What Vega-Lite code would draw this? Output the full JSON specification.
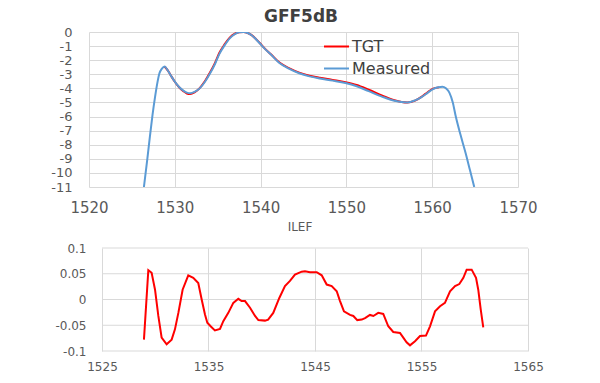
{
  "$schema": "https://vega.github.io/schema/vega-lite/v6.json",
  "padding": {"left": 39, "top": 8, "right": 5, "bottom": 5},
  "background": "white",
  "config": {
    "font": "DejaVu Sans",
    "view": {"stroke": null},
    "axis": {"gridColor": "#D9D9D9", "gridWidth": 1, "domain": false, "ticks": false, "labelColor": "#595959", "title": null, "labelFont": "DejaVu Sans", "labelOverlap": false, "labelFlush": false, "labelBound": false}
  },
  "datasets": {
    "tgt": [
      {"wl": 1528.8, "db": -2.45, "series": "TGT"},
      {"wl": 1529.2, "db": -2.74, "series": "TGT"},
      {"wl": 1529.6, "db": -3.15, "series": "TGT"},
      {"wl": 1530.0, "db": -3.53, "series": "TGT"},
      {"wl": 1530.5, "db": -3.92, "series": "TGT"},
      {"wl": 1531.0, "db": -4.2, "series": "TGT"},
      {"wl": 1531.4, "db": -4.36, "series": "TGT"},
      {"wl": 1531.8, "db": -4.4, "series": "TGT"},
      {"wl": 1532.3, "db": -4.28, "series": "TGT"},
      {"wl": 1532.9, "db": -3.98, "series": "TGT"},
      {"wl": 1533.5, "db": -3.5, "series": "TGT"},
      {"wl": 1534.1, "db": -2.88, "series": "TGT"},
      {"wl": 1534.7, "db": -2.17, "series": "TGT"},
      {"wl": 1535.2, "db": -1.47, "series": "TGT"},
      {"wl": 1535.8, "db": -0.88, "series": "TGT"},
      {"wl": 1536.4, "db": -0.4, "series": "TGT"},
      {"wl": 1537.0, "db": -0.12, "series": "TGT"},
      {"wl": 1537.5, "db": -0.01, "series": "TGT"},
      {"wl": 1538.0, "db": 0, "series": "TGT"},
      {"wl": 1538.5, "db": -0.07, "series": "TGT"},
      {"wl": 1539.0, "db": -0.24, "series": "TGT"},
      {"wl": 1539.9, "db": -0.78, "series": "TGT"},
      {"wl": 1540.5, "db": -1.18, "series": "TGT"},
      {"wl": 1541.2, "db": -1.58, "series": "TGT"},
      {"wl": 1542.2, "db": -2.17, "series": "TGT"},
      {"wl": 1543.3, "db": -2.56, "series": "TGT"},
      {"wl": 1544.5, "db": -2.88, "series": "TGT"},
      {"wl": 1545.7, "db": -3.1, "series": "TGT"},
      {"wl": 1546.9, "db": -3.25, "series": "TGT"},
      {"wl": 1548.4, "db": -3.4, "series": "TGT"},
      {"wl": 1549.9, "db": -3.56, "series": "TGT"},
      {"wl": 1551.2, "db": -3.76, "series": "TGT"},
      {"wl": 1552.6, "db": -4.1, "series": "TGT"},
      {"wl": 1554.2, "db": -4.52, "series": "TGT"},
      {"wl": 1555.6, "db": -4.84, "series": "TGT"},
      {"wl": 1557.1, "db": -5.0, "series": "TGT"},
      {"wl": 1558.0, "db": -4.87, "series": "TGT"},
      {"wl": 1558.8, "db": -4.58, "series": "TGT"},
      {"wl": 1559.5, "db": -4.26, "series": "TGT"},
      {"wl": 1560.1, "db": -4.02, "series": "TGT"},
      {"wl": 1560.8, "db": -3.93, "series": "TGT"}
    ],
    "measured": [
      {"wl": 1526.4, "db": -11, "series": "Measured"},
      {"wl": 1526.8, "db": -9.0, "series": "Measured"},
      {"wl": 1527.1, "db": -7.4, "series": "Measured"},
      {"wl": 1527.4, "db": -5.9, "series": "Measured"},
      {"wl": 1527.7, "db": -4.6, "series": "Measured"},
      {"wl": 1528.0, "db": -3.5, "series": "Measured"},
      {"wl": 1528.2, "db": -2.95, "series": "Measured"},
      {"wl": 1528.5, "db": -2.6, "series": "Measured"},
      {"wl": 1528.8, "db": -2.45, "series": "Measured"},
      {"wl": 1529.2, "db": -2.75, "series": "Measured"},
      {"wl": 1529.6, "db": -3.15, "series": "Measured"},
      {"wl": 1530.0, "db": -3.52, "series": "Measured"},
      {"wl": 1530.5, "db": -3.9, "series": "Measured"},
      {"wl": 1531.0, "db": -4.16, "series": "Measured"},
      {"wl": 1531.4, "db": -4.3, "series": "Measured"},
      {"wl": 1531.8, "db": -4.35, "series": "Measured"},
      {"wl": 1532.3, "db": -4.25, "series": "Measured"},
      {"wl": 1532.9, "db": -4.0, "series": "Measured"},
      {"wl": 1533.5, "db": -3.55, "series": "Measured"},
      {"wl": 1534.1, "db": -2.95, "series": "Measured"},
      {"wl": 1534.7, "db": -2.25, "series": "Measured"},
      {"wl": 1535.2, "db": -1.55, "series": "Measured"},
      {"wl": 1535.8, "db": -0.95, "series": "Measured"},
      {"wl": 1536.4, "db": -0.45, "series": "Measured"},
      {"wl": 1537.0, "db": -0.15, "series": "Measured"},
      {"wl": 1537.5, "db": -0.02, "series": "Measured"},
      {"wl": 1538.0, "db": 0, "series": "Measured"},
      {"wl": 1538.5, "db": -0.07, "series": "Measured"},
      {"wl": 1539.0, "db": -0.25, "series": "Measured"},
      {"wl": 1539.9, "db": -0.8, "series": "Measured"},
      {"wl": 1540.5, "db": -1.2, "series": "Measured"},
      {"wl": 1541.2, "db": -1.6, "series": "Measured"},
      {"wl": 1542.2, "db": -2.2, "series": "Measured"},
      {"wl": 1543.3, "db": -2.6, "series": "Measured"},
      {"wl": 1544.5, "db": -2.93, "series": "Measured"},
      {"wl": 1545.7, "db": -3.15, "series": "Measured"},
      {"wl": 1546.9, "db": -3.3, "series": "Measured"},
      {"wl": 1548.4, "db": -3.45, "series": "Measured"},
      {"wl": 1549.9, "db": -3.62, "series": "Measured"},
      {"wl": 1551.2, "db": -3.85, "series": "Measured"},
      {"wl": 1552.6, "db": -4.2, "series": "Measured"},
      {"wl": 1554.2, "db": -4.6, "series": "Measured"},
      {"wl": 1555.6, "db": -4.88, "series": "Measured"},
      {"wl": 1557.1, "db": -5.0, "series": "Measured"},
      {"wl": 1558.0, "db": -4.85, "series": "Measured"},
      {"wl": 1558.8, "db": -4.6, "series": "Measured"},
      {"wl": 1559.5, "db": -4.3, "series": "Measured"},
      {"wl": 1560.1, "db": -4.05, "series": "Measured"},
      {"wl": 1560.7, "db": -3.92, "series": "Measured"},
      {"wl": 1561.2, "db": -3.88, "series": "Measured"},
      {"wl": 1561.6, "db": -4.0, "series": "Measured"},
      {"wl": 1562.0, "db": -4.3, "series": "Measured"},
      {"wl": 1562.4, "db": -5.0, "series": "Measured"},
      {"wl": 1562.75, "db": -6.0, "series": "Measured"},
      {"wl": 1563.3, "db": -7.3, "series": "Measured"},
      {"wl": 1563.9, "db": -8.6, "series": "Measured"},
      {"wl": 1564.4, "db": -9.8, "series": "Measured"},
      {"wl": 1564.9, "db": -11, "series": "Measured"}
    ],
    "ilefgrid": [{"g": -0.1}, {"g": -0.05}, {"g": 0}, {"g": 0.05}, {"g": 0.1}],
    "ilef": [
      {"wl": 1528.94, "v": -0.078}, {"wl": 1529.35, "v": 0.057}, {"wl": 1529.66, "v": 0.052},
      {"wl": 1529.98, "v": 0.019}, {"wl": 1530.29, "v": -0.032}, {"wl": 1530.6, "v": -0.074},
      {"wl": 1531.07, "v": -0.087}, {"wl": 1531.54, "v": -0.078}, {"wl": 1531.85, "v": -0.058},
      {"wl": 1532.17, "v": -0.026}, {"wl": 1532.57, "v": 0.019}, {"wl": 1533.1, "v": 0.047},
      {"wl": 1533.57, "v": 0.042}, {"wl": 1534.04, "v": 0.032}, {"wl": 1534.36, "v": 0.0},
      {"wl": 1534.67, "v": -0.029}, {"wl": 1534.89, "v": -0.045}, {"wl": 1535.2, "v": -0.052},
      {"wl": 1535.6, "v": -0.06}, {"wl": 1536.08, "v": -0.057}, {"wl": 1536.39, "v": -0.042},
      {"wl": 1536.86, "v": -0.026}, {"wl": 1537.33, "v": -0.0065}, {"wl": 1537.8, "v": 0.0013},
      {"wl": 1538.11, "v": -0.003}, {"wl": 1538.43, "v": -0.003}, {"wl": 1538.9, "v": -0.016},
      {"wl": 1539.37, "v": -0.032}, {"wl": 1539.68, "v": -0.04}, {"wl": 1540.3, "v": -0.041},
      {"wl": 1540.6, "v": -0.039}, {"wl": 1541.08, "v": -0.026}, {"wl": 1541.65, "v": 0.003},
      {"wl": 1542.18, "v": 0.026}, {"wl": 1542.65, "v": 0.036}, {"wl": 1543.12, "v": 0.0485},
      {"wl": 1543.75, "v": 0.054}, {"wl": 1544.06, "v": 0.055}, {"wl": 1544.53, "v": 0.053},
      {"wl": 1545.16, "v": 0.053}, {"wl": 1545.63, "v": 0.047}, {"wl": 1546.1, "v": 0.029},
      {"wl": 1546.57, "v": 0.026}, {"wl": 1547.04, "v": 0.016}, {"wl": 1547.35, "v": -0.003},
      {"wl": 1547.72, "v": -0.023}, {"wl": 1548.29, "v": -0.03}, {"wl": 1548.6, "v": -0.032},
      {"wl": 1548.97, "v": -0.04}, {"wl": 1549.39, "v": -0.039}, {"wl": 1549.7, "v": -0.036},
      {"wl": 1550.16, "v": -0.03}, {"wl": 1550.48, "v": -0.032}, {"wl": 1550.94, "v": -0.026},
      {"wl": 1551.41, "v": -0.028}, {"wl": 1551.57, "v": -0.036}, {"wl": 1551.88, "v": -0.052},
      {"wl": 1552.35, "v": -0.063}, {"wl": 1552.98, "v": -0.065}, {"wl": 1553.29, "v": -0.074},
      {"wl": 1553.6, "v": -0.083}, {"wl": 1553.92, "v": -0.089}, {"wl": 1554.39, "v": -0.081},
      {"wl": 1554.86, "v": -0.071}, {"wl": 1555.42, "v": -0.07}, {"wl": 1555.8, "v": -0.052},
      {"wl": 1556.27, "v": -0.023}, {"wl": 1556.74, "v": -0.013}, {"wl": 1557.2, "v": -0.0065},
      {"wl": 1557.68, "v": 0.016}, {"wl": 1558.15, "v": 0.026}, {"wl": 1558.55, "v": 0.03},
      {"wl": 1558.93, "v": 0.042}, {"wl": 1559.24, "v": 0.058}, {"wl": 1559.71, "v": 0.058},
      {"wl": 1560.12, "v": 0.042}, {"wl": 1560.33, "v": 0.019}, {"wl": 1560.56, "v": -0.019},
      {"wl": 1560.8, "v": -0.054}
    ]
  },
  "columns": 1,
  "align": "none",
  "concat": [
    {
      "width": 429,
      "height": 155,
      "title": {"text": "GFF5dB", "fontSize": 17, "fontWeight": "bold", "color": "#404040", "offset": 0, "dx": -2.5},
      "layer": [
        {
          "data": {"name": "tgt"},
          "mark": {"type": "line", "strokeWidth": 2, "interpolate": "monotone", "clip": true},
          "encoding": {
            "x": {"field": "wl", "type": "quantitative", "scale": {"domain": [1520, 1570], "nice": false, "zero": false},
                  "axis": {"values": [1520, 1530, 1540, 1550, 1560, 1570], "tickCount": 20, "labelFontSize": 15, "labelPadding": 13, "grid": true, "labelExpr": "'' + datum.value"}},
            "y": {"field": "db", "type": "quantitative", "scale": {"domain": [-11, 0], "nice": false},
                  "axis": {"values": [-11, -10, -9, -8, -7, -6, -5, -4, -3, -2, -1, 0], "tickCount": 30, "labelFontSize": 13, "labelPadding": 17, "minExtent": 50, "maxExtent": 50, "labelExpr": "'' + datum.value"}},
            "color": {"field": "series", "type": "nominal",
                      "scale": {"domain": ["TGT", "Measured"], "range": ["#FF0000", "#5B9BD5"]},
                      "legend": {"title": null, "orient": "none", "legendX": 234, "legendY": 1, "symbolType": "stroke", "symbolSize": 625, "symbolStrokeWidth": 2, "labelFontSize": 16, "labelColor": "#404040", "labelOffset": 2, "rowPadding": -5, "padding": 0}}
          }
        },
        {
          "data": {"name": "measured"},
          "mark": {"type": "line", "strokeWidth": 2, "interpolate": "monotone", "clip": true},
          "encoding": {
            "x": {"field": "wl", "type": "quantitative"},
            "y": {"field": "db", "type": "quantitative"},
            "color": {"field": "series", "type": "nominal"}
          }
        }
      ]
    },
    {
      "width": 439,
      "height": 103,
      "title": {"text": "ILEF", "fontSize": 12, "fontWeight": "normal", "color": "#595959", "offset": 8, "dx": -8.5},
      "layer": [
        {
          "data": {"name": "ilefgrid"},
          "mark": {"type": "rule", "color": "#D9D9D9", "strokeWidth": 1},
          "encoding": {
            "x": {"datum": 1525, "type": "quantitative"},
            "x2": {"datum": 1565},
            "y": {"field": "g", "type": "quantitative"}
          }
        },
        {
          "data": {"name": "ilef"},
          "mark": {"type": "line", "strokeWidth": 2, "color": "#FF0000", "clip": true},
          "encoding": {
            "x": {"field": "wl", "type": "quantitative", "scale": {"domain": [1523.78, 1565], "nice": false, "zero": false},
                  "axis": {"values": [1525, 1535, 1545, 1555, 1565], "tickCount": 20, "labelFontSize": 12, "labelPadding": 10, "grid": true, "labelExpr": "'' + datum.value"}},
            "y": {"field": "v", "type": "quantitative", "scale": {"domain": [-0.1, 0.1], "nice": false},
                  "axis": {"values": [-0.1, -0.05, 0, 0.05, 0.1], "tickCount": 20, "grid": false, "labelFontSize": 12, "labelPadding": 3, "minExtent": 50, "maxExtent": 50, "labelExpr": "'' + datum.value"}}
          }
        }
      ]
    }
  ],
  "spacing": 6,
  "resolve": {"scale": {"color": "independent"}, "legend": {"color": "independent"}}
}
